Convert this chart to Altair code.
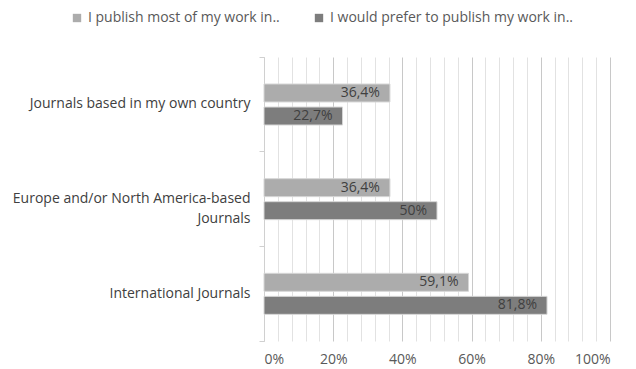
import altair as alt
import pandas as pd

categories = [
    "Journals based in my own country",
    "Europe and/or North America-based\nJournals",
    "International Journals",
]
series = ["I publish most of my work in..", "I would prefer to publish my work in.."]
most_values = [0.364, 0.364, 0.591]
prefer_values = [0.227, 0.50, 0.818]
most_labels = ["36,4%", "36,4%", "59,1%"]
prefer_labels = ["22,7%", "50%", "81,8%"]
x_ticks = [0, 0.04, 0.08, 0.12, 0.16, 0.2, 0.24, 0.28, 0.32, 0.36, 0.4, 0.44, 0.48,
           0.52, 0.56, 0.6, 0.64, 0.68, 0.72, 0.76, 0.8, 0.84, 0.88, 0.92, 0.96, 1.0]
colors = ["#acacac", "#7d7d7d"]

rows = []
for i, c in enumerate(categories):
    rows.append({"cat": c, "series": series[0], "value": most_values[i], "label": most_labels[i]})
    rows.append({"cat": c, "series": series[1], "value": prefer_values[i], "label": prefer_labels[i]})
df = pd.DataFrame(rows)

y_enc = alt.Y(
    "cat:N",
    sort=categories,
    title=None,
    scale=alt.Scale(paddingInner=0, paddingOuter=0),
    axis=alt.Axis(
        labelExpr="split(datum.label, '\\n')",
        labelFont="Open Sans",
        labelFontSize=14,
        labelColor="#404040",
        labelPadding=9,
        labelLineHeight=20,
        labelLimit=400,
        tickSize=5,
        tickColor="#d0d0d0",
        domainColor="#d0d0d0",
        bandPosition=1,
        tickExtra=True,
        grid=False,
    ),
)
yoff_enc = alt.YOffset(
    "series:N",
    sort=series,
    scale=alt.Scale(paddingInner=0.22, paddingOuter=0, range=[27, 68]),
)
x_enc = alt.X(
    "value:Q",
    title=None,
    scale=alt.Scale(domain=[0, 1], nice=False),
    axis=alt.Axis(
        values=x_ticks,
        tickCount=40,
        format="%",
        labelExpr="round(datum.value*100) % 20 == 0 ? datum.label : ''",
        labelFont="Open Sans",
        labelFontSize=14,
        labelColor="#595959",
        labelPadding=11,
        labelOverlap=False,
        labelBound=False,
        ticks=False,
        domain=False,
        grid=True,
        gridColor={"condition": {"test": "round(datum.value*100) % 20 == 0", "value": "#c8c8c8"}, "value": "#e2e2e2"},
        gridWidth=1,
    ),
)

bars = alt.Chart(df).mark_bar(stroke="#d6d6d6", strokeWidth=1).encode(
    x=x_enc,
    y=y_enc,
    yOffset=yoff_enc,
    color=alt.Color(
        "series:N",
        sort=series,
        scale=alt.Scale(domain=series, range=colors),
        legend=alt.Legend(
            title=None,
            orient="none",
            legendX=-194,
            legendY=-46,
            direction="horizontal",
            symbolType="square",
            symbolSize=70,
            symbolStrokeWidth=0,
            labelFont="Open Sans",
            labelFontSize=14,
            labelColor="#595959",
            columnPadding=32,
            labelLimit=400,
        ),
    ),
)

text = alt.Chart(df).mark_text(
    align="right", baseline="middle", dx=-10, font="Open Sans", fontSize=14, color="#404040"
).encode(
    x=alt.X("value:Q"),
    y=alt.Y("cat:N", sort=categories),
    yOffset=alt.YOffset("series:N", sort=series),
    text="label:N",
)

chart = (
    alt.layer(bars, text)
    .properties(
        width=346,
        height=284,
        autosize=alt.AutoSizeParams(type="none"),
        padding={"left": 264, "top": 57, "right": 26, "bottom": 28},
        background="white",
    )
    .configure_view(stroke=None)
)

chart.save("out.html", embed_options={"renderer": "svg", "actions": False})
